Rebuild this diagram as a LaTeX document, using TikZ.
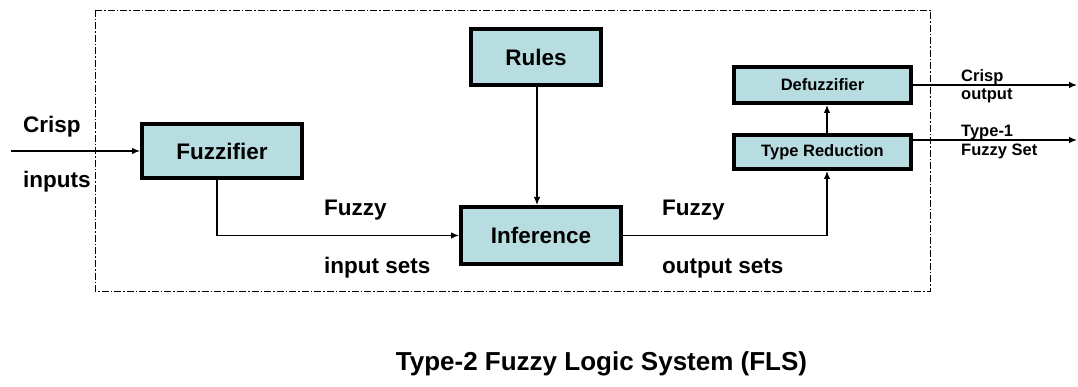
\documentclass[tikz,border=0pt]{standalone}
\usepackage{fontspec}
\setmainfont{Liberation Sans}
\usetikzlibrary{arrows.meta}
\definecolor{boxfill}{RGB}{183,221,225}
\begin{document}
\begin{tikzpicture}[x=1pt,y=-1pt,
  blk/.style={draw=black,line width=4pt,fill=boxfill,inner sep=0pt,
    font=\bfseries\fontsize{22.5}{26}\selectfont,align=center},
  sblk/.style={blk,font=\bfseries\fontsize{16.5}{19}\selectfont},
  conn/.style={line width=1.2pt,-{Latex[length=8pt,width=6.5pt]}},
  lbl/.style={inner sep=0pt,anchor=base west,font=\bfseries\fontsize{22.5}{26}\selectfont},
  slbl/.style={inner sep=0pt,anchor=base west,font=\bfseries\fontsize{16.5}{19}\selectfont},
  frame/.style={line width=0.9pt,dash pattern=on 7pt off 2pt on 1.5pt off 2pt}]
\useasboundingbox (0,0) rectangle (1078,387);
\fill[white] (0,0) rectangle (1078,387);
\draw[frame] (95,10) rectangle (930,291);

\node[blk,minimum width=160pt,minimum height=54pt] (fuzz) at (222,151) {Fuzzifier};
\node[blk,minimum width=130pt,minimum height=56pt] (rules) at (536,57) {Rules};
\node[blk,minimum width=160pt,minimum height=57pt] (inf) at (541,235.5) {Inference};
\node[sblk,minimum width=177pt,minimum height=36pt] (defuzz) at (822.5,85) {Defuzzifier};
\node[sblk,minimum width=177pt,minimum height=34pt] (tr) at (822.5,152) {Type Reduction};

\coordinate (inA) at (11,151);
\coordinate (out1) at (1077,85);
\coordinate (out2) at (1077,140);

\draw[conn] (inA) -- (fuzz.west);
\draw[conn] ([xshift=-5pt]fuzz.south) |- (inf.west);
\draw[conn] ([xshift=1pt]rules.south) -- ([xshift=1pt]rules.south |- inf.north);
\draw[conn] (inf.east) -| ([xshift=4.5pt]tr.south);
\draw[conn] ([xshift=4.5pt]tr.north) -- ([xshift=4.5pt]defuzz.south);
\draw[conn] (defuzz.east) -- (out1);
\draw[conn] ([yshift=12pt]tr.east) -- (out2);

\node[lbl] (l1) at (23,133) {Crisp};
\node[lbl] (l2) at (23,188) {inputs};
\node[lbl] (l3) at (324,216) {Fuzzy};
\node[lbl] (l4) at (324,273) {input sets};
\node[lbl] (l5) at (662,216) {Fuzzy};
\node[lbl] (l6) at (662,273) {output sets};
\node[slbl] (l7) at (961,82) {Crisp};
\node[slbl] (l8) at (961,100) {output};
\node[slbl] (l9) at (961,137) {Type-1};
\node[slbl] (l10) at (961,156) {Fuzzy Set};
\node[inner sep=0pt,anchor=base,font=\bfseries\fontsize{26}{30}\selectfont] (title) at (601.5,370) {Type-2 Fuzzy Logic System (FLS)};
\end{tikzpicture}
\end{document}
